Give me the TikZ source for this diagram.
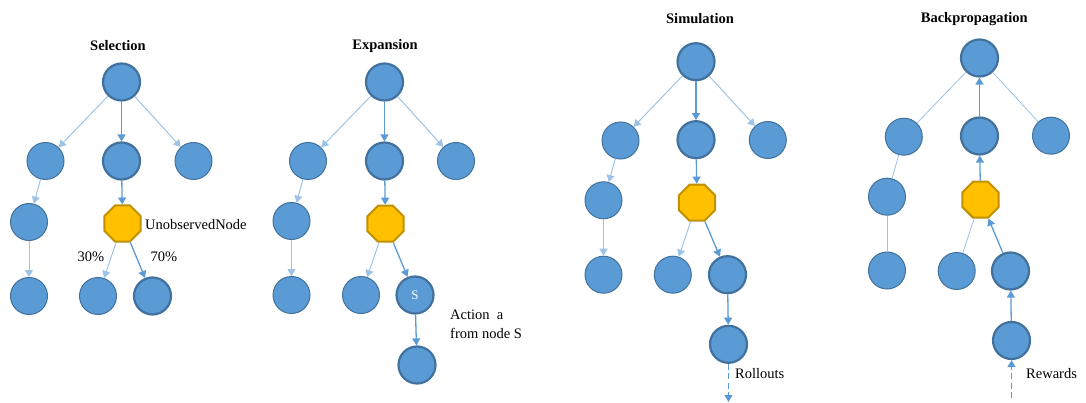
\documentclass[tikz,border=0pt]{standalone}
\usepackage{fontspec}
\setmainfont{Liberation Serif}
\usetikzlibrary{shapes.geometric,arrows.meta}
\definecolor{nodeblue}{HTML}{5B9BD5}
\definecolor{nodeedge}{HTML}{41719C}
\definecolor{goldfill}{HTML}{FFC000}
\definecolor{goldedge}{HTML}{BF9000}
\definecolor{pathblue}{HTML}{5B9BD5}
\definecolor{lightblue}{HTML}{9DC3E6}
\tikzset{
  nd/.style={circle,fill=nodeblue,draw=nodeedge,line width=1pt,minimum size=37pt,inner sep=0pt},
  nde/.style={nd,line width=2.2pt},
  octnode/.style={regular polygon,regular polygon sides=8,fill=goldfill,draw=goldedge,line width=2pt,minimum size=39pt,inner sep=0pt},
  pathar/.style={draw=pathblue,line width=1.3pt,-{Triangle[length=7pt,width=8pt]}},
  offar/.style={draw=lightblue,line width=1pt,-{Triangle[length=7pt,width=8pt]}},
  offln/.style={draw=lightblue,line width=0.8pt},
  dashar/.style={draw=pathblue,line width=1.3pt,dash pattern=on 6pt off 3.5pt,-{Triangle[length=7pt,width=8pt]}},
  ttl/.style={font=\fontsize{14.5}{17}\selectfont\bfseries},
  lbl/.style={font=\fontsize{14.5}{19}\selectfont,inner sep=0pt}
}
\begin{document}
\begin{tikzpicture}[x=1pt,y=-1pt]
\useasboundingbox (0,0) rectangle (1086,403);
% ---------- Selection ----------
\node[ttl] (st) at (118,46) {Selection};
\node[nde] (s0) at (121.5,82) {};
\node[nd]  (s1) at (45.5,161) {};
\node[nde] (s2) at (121.5,161) {};
\node[nd]  (s3) at (193.5,161) {};
\node[nd]  (s4) at (29,222) {};
\node[octnode] (s5) at (122.5,223.5) {};
\node[nd]  (s6) at (29,296) {};
\node[nd]  (s7) at (98,296) {};
\node[nde] (s8) at (152.5,296) {};
\node[lbl,anchor=west] (su) at (145,225) {UnobservedNode};
\node[lbl] (s30) at (91,257) {30\%};
\node[lbl] (s70) at (164,257) {70\%};
\draw[offar] (s0) -- (s1);
\draw[pathar] (s0) -- (s2);
\draw[offar] (s0) -- (s3);
\draw[offar] (s1) -- (s4);
\draw[offar] (s4) -- (s6);
\draw[pathar] (s2) -- (s5);
\draw[offar] (s5) -- (s7);
\draw[pathar] (s5) -- (s8);
% ---------- Expansion ----------
\node[ttl] (et) at (385,46) {Expansion};
\node[nde] (e0) at (384.5,82) {};
\node[nd]  (e1) at (308,161) {};
\node[nde] (e2) at (384.5,161) {};
\node[nd]  (e3) at (456,161) {};
\node[nd]  (e4) at (291.5,221) {};
\node[octnode] (e5) at (385.5,223.7) {};
\node[nd]  (e6) at (291.5,295) {};
\node[nd]  (e7) at (361,295) {};
\node[nde,text=white,font=\fontsize{13}{15}\selectfont] (e8) at (415,295) {S};
\node[nde] (e9) at (417,365) {};
\node[lbl,anchor=west,align=left] (ea) at (450,324.5) {Action\ \ a\\from node S};
\draw[offar] (e0) -- (e1);
\draw[pathar] (e0) -- (e2);
\draw[offar] (e0) -- (e3);
\draw[offar] (e1) -- (e4);
\draw[offar] (e4) -- (e6);
\draw[pathar] (e2) -- (e5);
\draw[offar] (e5) -- (e7);
\draw[pathar] (e5) -- (e8);
\draw[pathar] (e8) -- (e9);
% ---------- Simulation ----------
\node[ttl] (mt) at (700,19) {Simulation};
\node[nde] (m0) at (696,61.7) {};
\node[nd]  (m1) at (620.5,140.5) {};
\node[nde] (m2) at (696,139.7) {};
\node[nd]  (m3) at (767.8,140) {};
\node[nd]  (m4) at (603.5,200.3) {};
\node[octnode] (m5) at (697,202.7) {};
\node[nd]  (m6) at (603.5,274.7) {};
\node[nd]  (m7) at (672.8,274.7) {};
\node[nde] (m8) at (727.5,274.7) {};
\node[nde] (m9) at (728.5,344.3) {};
\coordinate (mend) at (728.5,402);
\node[lbl,anchor=west] (mr) at (735,374) {Rollouts};
\draw[offar] (m0) -- (m1);
\draw[pathar] (m0) -- (m2);
\draw[offar] (m0) -- (m3);
\draw[offar] (m1) -- (m4);
\draw[offar] (m4) -- (m6);
\draw[pathar] (m2) -- (m5);
\draw[offar] (m5) -- (m7);
\draw[pathar] (m5) -- (m8);
\draw[pathar] (m8) -- (m9);
\draw[dashar] (m9) -- (mend);
% ---------- Backpropagation ----------
\node[ttl] (bt) at (974.3,19.3) {Backpropagation};
\node[nde] (b0) at (979.5,58) {};
\node[nd]  (b1) at (903.8,136.7) {};
\node[nde] (b2) at (979.5,136) {};
\node[nd]  (b3) at (1051,135.7) {};
\node[nd]  (b4) at (887,196.7) {};
\node[octnode] (b5) at (980.5,199.7) {};
\node[nd]  (b6) at (887,270.5) {};
\node[nd]  (b7) at (956.7,271) {};
\node[nde] (b8) at (1010.5,271) {};
\node[nde] (b9) at (1011.5,340.5) {};
\coordinate (bstart) at (1011.5,398);
\node[lbl,anchor=west] (br) at (1026,374) {Rewards};
\draw[offln] (b0) -- (b1);
\draw[pathar] (b2) -- (b0);
\draw[offln] (b0) -- (b3);
\draw[offln] (b1) -- (b4);
\draw[offln] (b4) -- (b6);
\draw[pathar] (b5) -- (b2);
\draw[offln] (b5) -- (b7);
\draw[pathar] (b8) -- (b5);
\draw[pathar] (b9) -- (b8);
\draw[dashar] (bstart) -- (b9);
\end{tikzpicture}
\end{document}
